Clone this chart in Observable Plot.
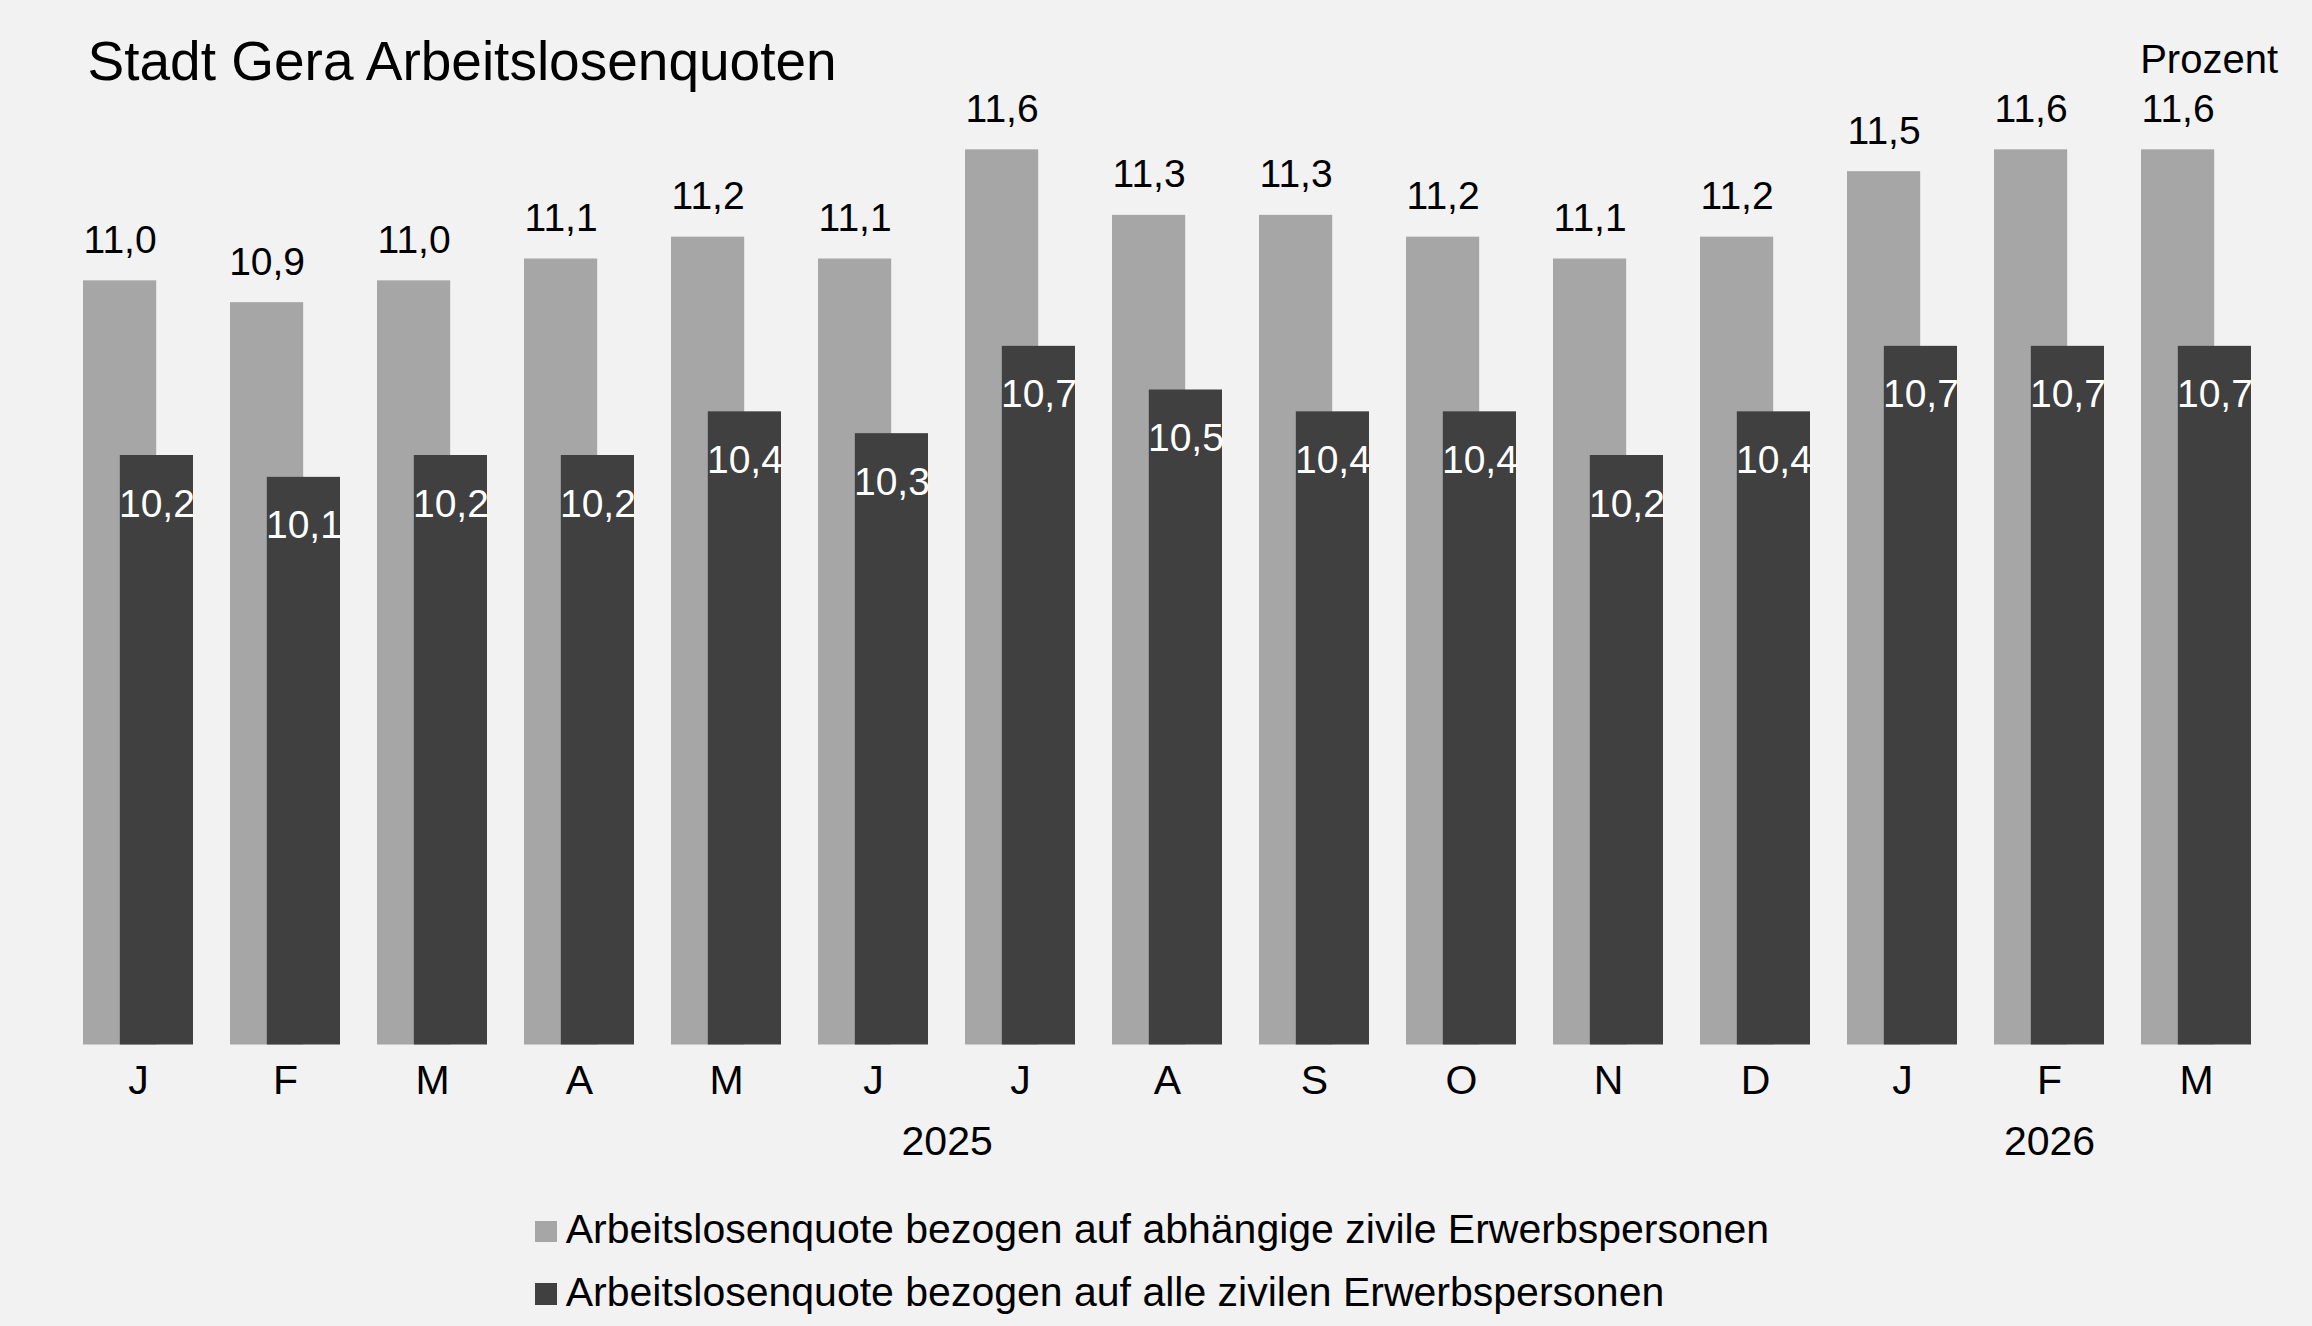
<!DOCTYPE html>
<html lang="de">
<head>
<meta charset="utf-8">
<title>Stadt Gera Arbeitslosenquoten</title>
<script src="https://cdn.jsdelivr.net/npm/d3@7"></script>
<script src="https://cdn.jsdelivr.net/npm/@observablehq/plot@0.6"></script>
<style>
  html, body { margin: 0; padding: 0; background: #f2f2f2; }
  #page { position: relative; width: 2312px; height: 1326px; background: #f2f2f2;
          font-family: "Liberation Sans", Arial, Helvetica, sans-serif; color: #000; overflow: hidden; }
  #chart { position: absolute; left: 0; top: 0; }
  .abs { position: absolute; white-space: nowrap; }
  #title { left: 87.5px; top: 34.4px; font-size: 55px; line-height: 55px; }
  #unit { right: 34px; top: 38.8px; font-size: 40px; line-height: 40px; }
  .lg-swatch { position: absolute; width: 21.5px; height: 21.5px; }
  .lg-text { position: absolute; font-size: 41px; line-height: 41px; white-space: nowrap; }
</style>
</head>
<body>
<div id="page">
  <div id="chart"></div>
  <div id="title" class="abs">Stadt Gera Arbeitslosenquoten</div>
  <div id="unit" class="abs">Prozent</div>
  <div id="legend"></div>
</div>
<script>
// ---- data ----
const months = ["2025-01","2025-02","2025-03","2025-04","2025-05","2025-06","2025-07","2025-08","2025-09","2025-10","2025-11","2025-12","2026-01","2026-02","2026-03"];
const monthLabels = ["J","F","M","A","M","J","J","A","S","O","N","D","J","F","M"];
const quoteAbhaengig = [11.0,10.9,11.0,11.1,11.2,11.1,11.6,11.3,11.3,11.2,11.1,11.2,11.5,11.6,11.6];
const quoteAlle = [10.2,10.1,10.2,10.2,10.4,10.3,10.7,10.5,10.4,10.4,10.2,10.4,10.7,10.7,10.7];
const years = [
  {label: "2025", first: "2025-01", last: "2025-12"},
  {label: "2026", first: "2026-01", last: "2026-03"}
];
const seriesNames = [
  "Arbeitslosenquote bezogen auf abhängige zivile Erwerbspersonen",
  "Arbeitslosenquote bezogen auf alle zivilen Erwerbspersonen"
];
const yDomain = [7.5, 12];

// ---- styles ----
const colorLight = "#a6a6a6";
const colorDark = "#404040";
const width = 2312, height = 1175;
const mL = 62, mR = 40.6, mT = 62, mB = 130.5;
const pInner = 0.25, pOuter = 0.125;
const step = (width - mL - mR) / (months.length - pInner + 2 * pOuter);
const bw = step * (1 - pInner);

const labelOf = Object.fromEntries(months.map((m, i) => [m, monthLabels[i]]));
const fmt = v => v.toFixed(1).replace(".", ",");
const data = months.map((m, i) => ({key: m, a: quoteAbhaengig[i], b: quoteAlle[i]}));

const yearMarks = years.map(yr => {
  const i0 = months.indexOf(yr.first), i1 = months.indexOf(yr.last);
  const mid = (i0 + i1) / 2;
  const base = Math.floor(mid);
  return Plot.text([yr], {
    x: () => months[base],
    text: d => d.label,
    frameAnchor: "bottom",
    lineAnchor: "bottom",
    dy: 109.8,
    dx: (mid - base) * step,
    fontSize: 41,
    fill: "#000"
  });
});

const chart = Plot.plot({
  width, height,
  marginLeft: mL, marginRight: mR, marginTop: mT, marginBottom: mB,
  style: {background: "transparent", fontFamily: "'Liberation Sans', Arial, Helvetica, sans-serif", fontSize: "41px", color: "#000", overflow: "visible"},
  x: {type: "band", domain: months, paddingInner: pInner, paddingOuter: pOuter, tickSize: 0, tickPadding: 20, tickFormat: k => labelOf[k], label: null},
  y: {domain: yDomain, axis: null},
  marks: [
    Plot.barY(data, {x: "key", y1: yDomain[0], y2: "a", fill: colorLight, insetRight: bw / 3}),
    Plot.barY(data, {x: "key", y1: yDomain[0], y2: "b", fill: colorDark, insetLeft: bw / 3}),
    Plot.text(data, {x: "key", y: "a", text: d => fmt(d.a), dx: -bw / 6, dy: -28, lineAnchor: "bottom", fontSize: 39, fill: "#000"}),
    Plot.text(data, {x: "key", y: "b", text: d => fmt(d.b), dx: bw / 6, dy: 61, lineAnchor: "bottom", fontSize: 39, fill: "#fff"}),
    ...yearMarks
  ]
});
document.getElementById("chart").appendChild(chart);

// ---- legend ----
const legend = document.getElementById("legend");
const legendRows = [
  {name: seriesNames[0], color: colorLight, swatchTop: 1220.7, textTop: 1208.6},
  {name: seriesNames[1], color: colorDark, swatchTop: 1283.3, textTop: 1272.0}
];
legendRows.forEach(r => {
  const sw = document.createElement("div");
  sw.className = "lg-swatch";
  sw.style.left = "535px";
  sw.style.top = r.swatchTop + "px";
  sw.style.background = r.color;
  legend.appendChild(sw);
  const tx = document.createElement("div");
  tx.className = "lg-text";
  tx.style.left = "565.7px";
  tx.style.top = r.textTop + "px";
  tx.textContent = r.name;
  legend.appendChild(tx);
});
</script>
</body>
</html>
